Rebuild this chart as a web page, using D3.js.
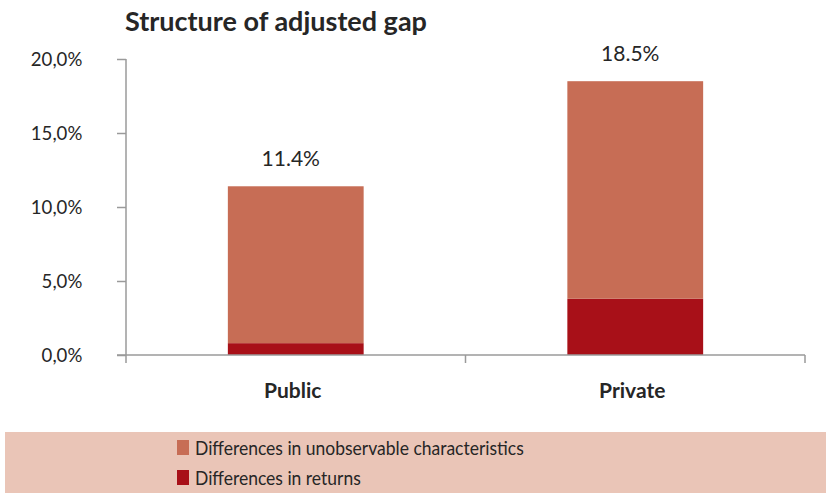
<!DOCTYPE html>
<html><head><meta charset="utf-8">
<script src="https://cdn.jsdelivr.net/npm/d3@7"></script>
<style>body{margin:0;background:#fff;} svg{display:block;}</style>
</head><body>
<script>
const categories = ["Public", "Private"];
const returnsValues = [0.8, 3.8];
const unobservableValues = [10.6, 14.7];
const totalLabels = ["11.4%", "18.5%"];
const yTicks = [0, 5, 10, 15, 20];
const seriesNames = ["Differences in unobservable characteristics", "Differences in returns"];
const title = "Structure of adjusted gap";

const W = 826, H = 493;
const font = "Lato, sans-serif";
const txt = "#262626";
const colUnobs = "#C76D55", colRet = "#A81018";

const svg = d3.select("body").append("svg").attr("width", W).attr("height", H);

const x = d3.scaleBand().domain(categories).range([126, 805]).paddingInner(0.6).paddingOuter(0.3);
const y = d3.scaleLinear().domain([0, 20]).range([355, 59]);

svg.append("text").attr("x", 125).attr("y", 31).attr("font-family", font).attr("font-weight", "bold")
  .attr("font-size", 27).attr("fill", txt).text(title);

// y axis
const yAxis = svg.append("g").attr("transform", "translate(126,0)")
  .call(d3.axisLeft(y).tickValues(yTicks).tickSize(9).tickPadding(38)
    .tickFormat(d => d3.format(".1f")(d).replace(".", ",") + "%"));
yAxis.select(".domain").attr("stroke", "#9a9a9a").attr("stroke-width", 1.5).attr("d", "M0,59V355");
yAxis.selectAll(".tick line").attr("stroke", "#9a9a9a").attr("stroke-width", 1.5);
yAxis.selectAll(".tick text").attr("font-family", font).attr("font-size", 20).attr("fill", txt)
  .attr("text-anchor", "end").attr("transform", "scale(0.93,1)");

// stacked bars
const stackData = categories.map((c, i) => ({cat: c, ret: returnsValues[i], unobs: unobservableValues[i]}));
const stack = d3.stack().keys(["ret", "unobs"])(stackData);
const colors = {ret: colRet, unobs: colUnobs};
svg.append("g").selectAll("g").data(stack).join("g").attr("fill", d => colors[d.key])
  .selectAll("rect").data(d => d).join("rect")
  .attr("x", d => x(d.data.cat)).attr("width", x.bandwidth())
  .attr("y", d => y(d[1])).attr("height", d => y(d[0]) - y(d[1]));

// x axis
const xAxisG = svg.append("g").attr("transform", "translate(0,355)");
xAxisG.append("line").attr("x1", 117).attr("x2", 805).attr("y1", 0).attr("y2", 0)
  .attr("stroke", "#9a9a9a").attr("stroke-width", 1.5);
xAxisG.selectAll("line.t").data([x("Public") - x.step()*0.3, (x("Public") + x.bandwidth() + x("Private"))/2, x("Private") + x.bandwidth() + x.step()*0.3])
  .join("line").attr("class", "t").attr("x1", d => d).attr("x2", d => d).attr("y1", 0).attr("y2", 8)
  .attr("stroke", "#9a9a9a").attr("stroke-width", 1.5);
xAxisG.selectAll("text").data(categories).join("text")
  .attr("x", d => x(d) + x.bandwidth() / 2 - 3).attr("y", 43).attr("text-anchor", "middle")
  .attr("font-family", font).attr("font-weight", "bold").attr("font-size", 21).attr("fill", txt).text(d => d);

// total labels
svg.selectAll("text.tot").data(categories).join("text").attr("class", "tot")
  .attr("x", d => x(d) + x.bandwidth() / 2 - 5)
  .attr("y", (d, i) => y(returnsValues[i] + unobservableValues[i]) - 20)
  .attr("text-anchor", "middle").attr("font-family", font).attr("font-size", 21).attr("fill", txt)
  .text((d, i) => totalLabels[i]);

// legend
svg.append("rect").attr("x", 5).attr("y", 432).attr("width", 821).attr("height", 61).attr("fill", "#EAC5B7");
const leg = svg.selectAll("g.leg").data(seriesNames).join("g").attr("class", "leg")
  .attr("transform", (d, i) => `translate(177,${440 + i * 30})`);
leg.append("rect").attr("width", 12).attr("height", 15).attr("fill", (d, i) => i === 0 ? colUnobs : colRet);
leg.append("text").attr("transform", "translate(18,15) scale(0.875,1)").attr("font-family", font).attr("font-size", 20)
  .attr("fill", txt).text(d => d);
</script>
</body></html>
